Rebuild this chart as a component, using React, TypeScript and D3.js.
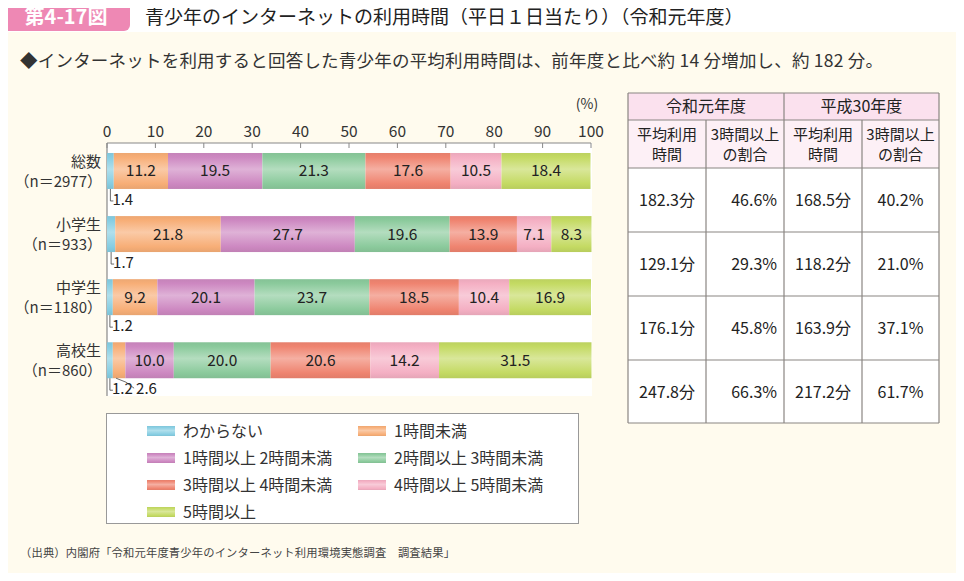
import React from "react";
import * as d3 from "d3";

const categories = ["総数", "小学生", "中学生", "高校生"];
const sampleLabels = ["（n＝2977）", "（n＝933）", "（n＝1180）", "（n＝860）"];
const seriesNames = [
  "わからない",
  "1時間未満",
  "1時間以上 2時間未満",
  "2時間以上 3時間未満",
  "3時間以上 4時間未満",
  "4時間以上 5時間未満",
  "5時間以上",
];
const seriesColors = ["#86cde2", "#f7ae77", "#cd88c1", "#8bca9c", "#ef8470", "#f4afc3", "#c4da63"];
const valuesTotal = [1.4, 11.2, 19.5, 21.3, 17.6, 10.5, 18.4];
const valuesElem = [1.7, 21.8, 27.7, 19.6, 13.9, 7.1, 8.3];
const valuesJunior = [1.2, 9.2, 20.1, 23.7, 18.5, 10.4, 16.9];
const valuesHigh = [1.2, 2.6, 10.0, 20.0, 20.6, 14.2, 31.5];
const allValues = [valuesTotal, valuesElem, valuesJunior, valuesHigh];
const xTicks = [0, 10, 20, 30, 40, 50, 60, 70, 80, 90, 100];

const tableYears = ["令和元年度", "平成30年度"];
const tableSubHeads = [["平均利用", "時間"], ["3時間以上", "の割合"]];
const avgR1 = ["182.3分", "129.1分", "176.1分", "247.8分"];
const shareR1 = ["46.6%", "29.3%", "45.8%", "66.3%"];
const avgH30 = ["168.5分", "118.2分", "163.9分", "217.2分"];
const shareH30 = ["40.2%", "21.0%", "37.1%", "61.7%"];

const FONT = "'Noto Sans CJK JP', 'Noto Sans', sans-serif";

function lighten(c: string, k: number) {
  return d3.interpolateRgb(c, "#ffffff")(k);
}

export default function App() {
  const x = d3.scaleLinear().domain([0, 100]).range([107, 591]);
  const y = d3
    .scaleBand<string>()
    .domain(categories)
    .range([143, 396])
    .paddingInner(0.43)
    .paddingOuter(0.22)
    .align(0.36);
  const bw = y.bandwidth();

  const colX = [628, 706, 784, 862, 939];
  const rowY = [93, 120, 168, 232, 296, 360, 423];

  const legendItems = seriesNames.map((n, i) => ({
    name: n,
    color: seriesColors[i],
    col: i % 2,
    row: Math.floor(i / 2),
  }));

  return (
    <div style={{ margin: -8, width: 964, height: 581 }}>
      <svg width={964} height={581} style={{ display: "block", fontFamily: FONT }}>
        <defs>
          {seriesColors.map((c, i) => (
            <linearGradient key={i} id={`g${i}`} x1="0" y1="0" x2="0" y2="1">
              <stop offset="0" stopColor={d3.interpolateRgb(c, "#000")(0.04)} />
              <stop offset="0.12" stopColor={c} />
              <stop offset="0.45" stopColor={lighten(c, 0.35)} />
              <stop offset="0.85" stopColor={c} />
              <stop offset="1" stopColor={d3.interpolateRgb(c, "#000")(0.06)} />
            </linearGradient>
          ))}
        </defs>
        <rect x={0} y={0} width={964} height={581} fill="#fffbee" />
        <rect x={0} y={0} width={964} height={32} fill="#ffffff" />
        <rect x={3} y={1} width={127} height={30} rx={6} fill="#ee88b4" />
        <text x={66} y={24} textAnchor="middle" fill="#fff" fontSize={20} fontWeight="bold">
          第4-17図
        </text>
        <text x={145} y={24} fontSize={19} fill="#222">
          青少年のインターネットの利用時間（平日１日当たり）（令和元年度）
        </text>
        <text x={20} y={67} fontSize={17.5} fill="#333" textLength={863} lengthAdjust="spacing">
          ◆インターネットを利用すると回答した青少年の平均利用時間は、前年度と比べ約 14 分増加し、約 182 分。
        </text>

        {/* plot area */}
        <rect x={107} y={143} width={485} height={253} fill="#ffffff" />
        <line x1={107} x2={591} y1={143} y2={143} stroke="#888" strokeWidth={1.2} />
        <line x1={107} x2={107} y1={143} y2={396} stroke="#888" strokeWidth={1.2} />
        {xTicks.map((t) => (
          <g key={t}>
            <line x1={x(t)} x2={x(t)} y1={143} y2={148} stroke="#888" strokeWidth={1} />
            <text x={x(t)} y={137} textAnchor="middle" fontSize={15.5} fill="#333">
              {t}
            </text>
          </g>
        ))}
        <text x={587} y={109} textAnchor="middle" fontSize={14} fill="#333">
          (%)
        </text>

        {categories.map((cat, ci) => {
          const vals = allValues[ci];
          const y0 = y(cat)!;
          let cum = 0;
          let smallIdx = 0;
          const segs = vals.map((v, i) => {
            const x0 = x(cum);
            cum += v;
            const x1 = x(cum);
            return { v, i, x0, x1 };
          });
          return (
            <g key={cat}>
              <text x={101} y={y0 + 14} textAnchor="end" fontSize={15} fill="#333">
                {cat}
              </text>
              <text x={102} y={y0 + 34} textAnchor="end" fontSize={15} fill="#333">
                {sampleLabels[ci]}
              </text>
              {segs.map((s) => (
                <rect
                  key={s.i}
                  x={s.x0}
                  y={y0}
                  width={Math.max(0, s.x1 - s.x0)}
                  height={bw}
                  fill={`url(#g${s.i})`}
                />
              ))}
              {segs.map((s) => {
                const xm = (s.x0 + s.x1) / 2;
                if (s.v >= 3) {
                  return (
                    <text
                      key={`t${s.i}`}
                      x={xm}
                      y={y0 + bw / 2 + 5.5}
                      textAnchor="middle"
                      fontSize={15.5}
                      fill="#222"
                    >
                      {s.v.toFixed(1)}
                    </text>
                  );
                }
                const k = smallIdx++;
                const yb = y0 + bw;
                if (k === 0) {
                  return (
                    <g key={`t${s.i}`}>
                      <path
                        d={`M${xm},${yb} L${xm},${yb + 12} L${xm + 3},${yb + 12}`}
                        fill="none"
                        stroke="#444"
                        strokeWidth={0.8}
                      />
                      <text x={xm + 2} y={yb + 16} fontSize={15} fill="#222">
                        {s.v.toFixed(1)}
                      </text>
                    </g>
                  );
                }
                return (
                  <g key={`t${s.i}`}>
                    <path
                      d={`M${xm - 3},${yb} Q${xm + 8},${yb + 3} ${xm + 15},${yb + 10}`}
                      fill="none"
                      stroke="#444"
                      strokeWidth={0.8}
                    />
                    <text x={xm + 17} y={yb + 16} fontSize={15} fill="#222">
                      {s.v.toFixed(1)}
                    </text>
                  </g>
                );
              })}
            </g>
          );
        })}

        {/* legend */}
        <rect x={106.5} y={413.5} width={472} height={110} fill="#fff" stroke="#999" strokeWidth={1} />
        {legendItems.map((it, i) => {
          const sx = it.col === 0 ? 147 : 358;
          const cy = 431 + it.row * 27;
          return (
            <g key={i}>
              <rect x={sx} y={cy - 5} width={28} height={10} fill={`url(#g${i})`} />
              <text x={sx + 36} y={cy + 6} fontSize={16} fill="#333">
                {it.name}
              </text>
            </g>
          );
        })}

        {/* table */}
        <rect x={colX[0]} y={rowY[0]} width={colX[4] - colX[0]} height={rowY[1] - rowY[0]} fill="#fbe1ee" />
        <rect x={colX[0]} y={rowY[1]} width={colX[4] - colX[0]} height={rowY[2] - rowY[1]} fill="#fdf0f6" />
        <rect x={colX[0]} y={rowY[2]} width={colX[4] - colX[0]} height={rowY[6] - rowY[2]} fill="#ffffff" />
        {tableYears.map((t, i) => (
          <text
            key={t}
            x={(colX[i * 2] + colX[i * 2 + 2]) / 2}
            y={112}
            textAnchor="middle"
            fontSize={16}
            fill="#222"
          >
            {t}
          </text>
        ))}
        {[0, 1, 2, 3].map((c) => {
          const lines = tableSubHeads[c % 2];
          const cx = (colX[c] + colX[c + 1]) / 2;
          return (
            <g key={c}>
              <text x={cx} y={140} textAnchor="middle" fontSize={15} fill="#222">
                {lines[0]}
              </text>
              <text x={cx} y={160} textAnchor="middle" fontSize={15} fill="#222">
                {lines[1]}
              </text>
            </g>
          );
        })}
        {categories.map((_, r) => {
          const cy = (rowY[r + 2] + rowY[r + 3]) / 2 + 6;
          return (
            <g key={r}>
              <text x={(colX[0] + colX[1]) / 2} y={cy} textAnchor="middle" fontSize={16} fill="#222">
                {avgR1[r]}
              </text>
              <text x={colX[2] - 7} y={cy} textAnchor="end" fontSize={16} fill="#222">
                {shareR1[r]}
              </text>
              <text x={(colX[2] + colX[3]) / 2} y={cy} textAnchor="middle" fontSize={16} fill="#222">
                {avgH30[r]}
              </text>
              <text x={(colX[3] + colX[4]) / 2} y={cy} textAnchor="middle" fontSize={16} fill="#222">
                {shareH30[r]}
              </text>
            </g>
          );
        })}
        {rowY.map((ry, i) => (
          <line
            key={`h${i}`}
            x1={colX[0]}
            x2={colX[4]}
            y1={ry}
            y2={ry}
            stroke="#8a8582"
            strokeWidth={1.2}
          />
        ))}
        {colX.map((cx, i) => (
          <line
            key={`v${i}`}
            x1={cx}
            x2={cx}
            y1={i === 1 || i === 3 ? rowY[1] : rowY[0]}
            y2={rowY[6]}
            stroke="#8a8582"
            strokeWidth={1.2}
          />
        ))}

        <text x={20} y={557} fontSize={11.3} fill="#444" textLength={435} lengthAdjust="spacing">
          （出典）内閣府「令和元年度青少年のインターネット利用環境実態調査　調査結果」
        </text>
      </svg>
    </div>
  );
}
